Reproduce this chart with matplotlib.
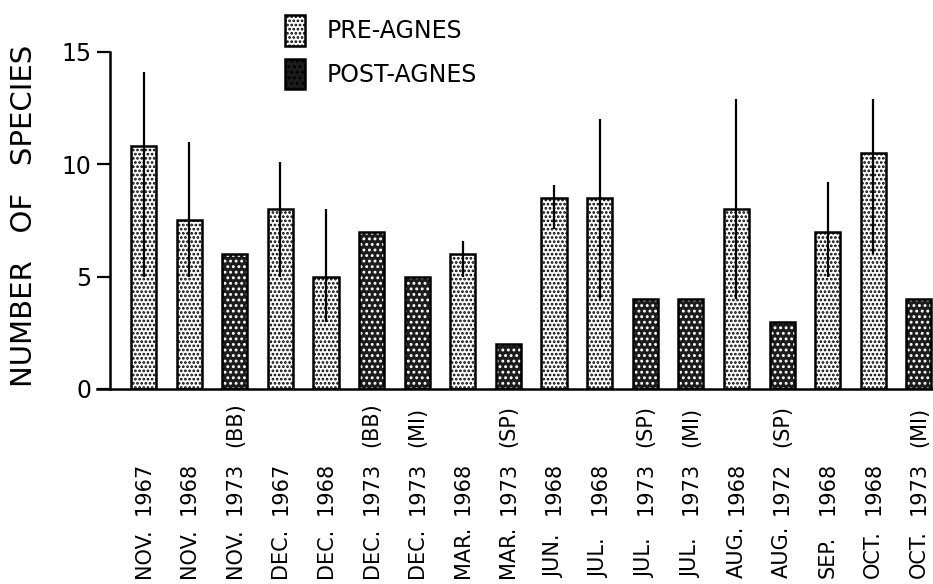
import numpy as np
import matplotlib
matplotlib.use('Agg')
import matplotlib.pyplot as plt
from matplotlib.patches import Patch
from matplotlib.transforms import blended_transform_factory

# sampling dates (month / year / site) and period
MONTHS = ['NOV.', 'NOV.', 'NOV.', 'DEC.', 'DEC.', 'DEC.', 'DEC.', 'MAR.', 'MAR.',
          'JUN.', 'JUL.', 'JUL.', 'JUL.', 'AUG.', 'AUG.', 'SEP.', 'OCT.', 'OCT.']
YEARS = ['1967', '1968', '1973', '1967', '1968', '1973', '1973', '1968', '1973',
         '1968', '1968', '1973', '1973', '1968', '1972', '1968', '1968', '1973']
SITES = ['', '', '(BB)', '', '', '(BB)', '(MI)', '', '(SP)',
         '', '', '(SP)', '(MI)', '', '(SP)', '', '', '(MI)']
PERIOD = ['pre', 'pre', 'post', 'pre', 'pre', 'post', 'post', 'pre', 'post',
          'pre', 'pre', 'post', 'post', 'pre', 'post', 'pre', 'pre', 'post']

# number of species, with range (min / max) where available
SPECIES = [10.8, 7.5, 6, 8, 5, 7, 5, 6, 2, 8.5, 8.5, 4, 4, 8, 3, 7, 10.5, 4]
LOW = [5, 5, np.nan, 5, 3, np.nan, np.nan, 5, np.nan,
       7.1, 4, np.nan, np.nan, 4, np.nan, 5, 6, np.nan]
HIGH = [14.1, 11, np.nan, 10.1, 8, np.nan, np.nan, 6.6, np.nan,
        9.1, 12, np.nan, np.nan, 12.9, np.nan, 9.2, 12.9, np.nan]

DARK = '#1c1c1c'

plt.rcParams['font.family'] = 'DejaVu Sans'
plt.rcParams['hatch.linewidth'] = 1.3

fig = plt.figure(figsize=(9.33, 5.84), dpi=100)
ax = fig.add_axes([0.104, 0.334, 0.896, 0.577])

x = np.arange(len(SPECIES))
width = 0.55
pre = np.array([p == 'pre' for p in PERIOD])
post = ~pre
vals = np.array(SPECIES)

# pre-agnes: white with black dots
ax.bar(x[pre], vals[pre], width, color='white', edgecolor='black',
       hatch='....', linewidth=1.8, zorder=2)
# post-agnes: dark with white dots, then black outline
ax.bar(x[post], vals[post], width, color=DARK, edgecolor='white',
       hatch='...', linewidth=0, zorder=2)
ax.bar(x[post], vals[post], width, color='none', edgecolor='black',
       linewidth=1.8, zorder=3)

ax.vlines(x, LOW, HIGH, color='black', linewidth=1.6, zorder=4)

ax.set_xlim(-1.02, 17.31)
ax.set_ylim(0, 15)
ax.spines['top'].set_visible(False)
ax.spines['right'].set_visible(False)
ax.spines['left'].set_position(('data', -0.735))
ax.spines['left'].set_bounds(0, 15)
ax.spines['left'].set_linewidth(1.8)
ax.spines['bottom'].set_linewidth(1.8)
ax.set_yticks([0, 5, 10, 15])
ax.tick_params(axis='y', length=9.5, width=1.6, labelsize=17, pad=4)
ax.set_xticks([])

fig.text(0.026, 0.63, 'NUMBER   OF   SPECIES', rotation=90,
         ha='center', va='center', fontsize=21)

# rotated date labels in three columns
trans = blended_transform_factory(ax.transData, fig.transFigure)
for i in range(len(SPECIES)):
    ax.text(x[i], 0.010, MONTHS[i], rotation=90, ha='center', va='bottom',
            fontsize=15, transform=trans)
    ax.text(x[i], 0.118, YEARS[i], rotation=90, ha='center', va='bottom',
            fontsize=15, transform=trans)
    if SITES[i]:
        ax.text(x[i], 0.235, SITES[i], rotation=90, ha='center', va='bottom',
                fontsize=15, transform=trans)

handles = [Patch(facecolor='white', edgecolor='black', hatch='....', linewidth=1.8),
           Patch(facecolor=DARK, edgecolor='black', hatch='...', linewidth=1.8)]
fig.legend(handles, ['PRE-AGNES', 'POST-AGNES'], loc='upper left',
           bbox_to_anchor=(0.292, 0.996), frameon=False, fontsize=17,
           handlelength=0.85, handleheight=1.6, labelspacing=0.55,
           handletextpad=0.9, borderaxespad=0.15)

fig.savefig('out.png', dpi=100)
